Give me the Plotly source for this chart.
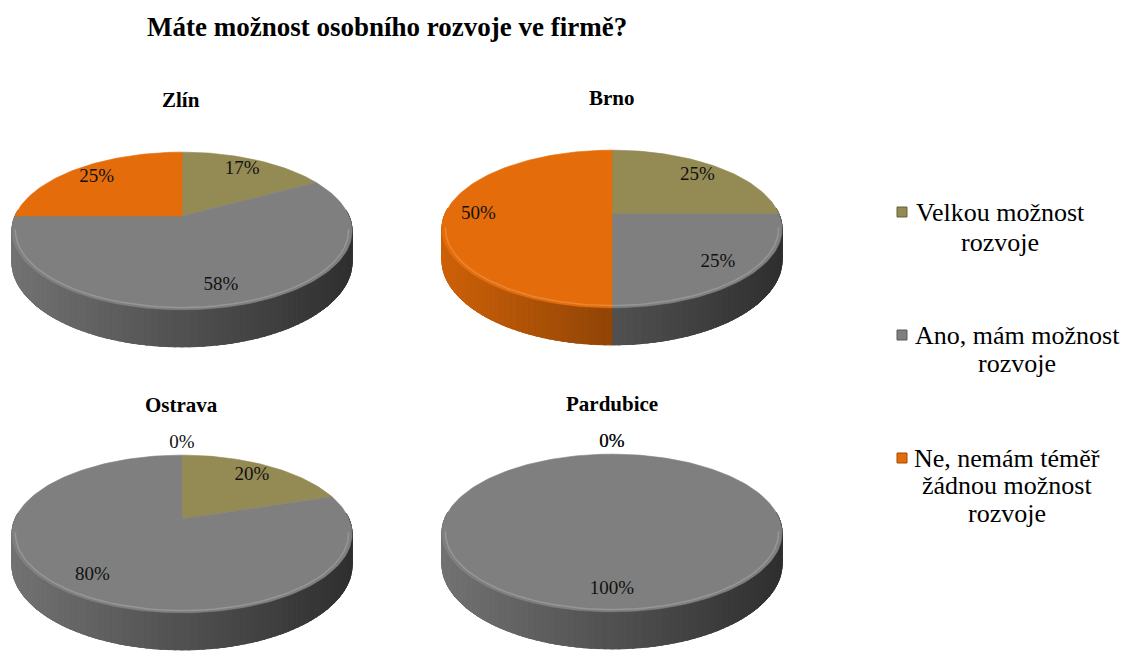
import numpy as np
import plotly.graph_objects as go

# Survey answers per branch (percent of respondents)
cities = ["Zlín", "Brno", "Ostrava", "Pardubice"]
categories = [
    "Velkou možnost rozvoje",
    "Ano, mám možnost rozvoje",
    "Ne, nemám téměř žádnou možnost rozvoje",
]
velkou = [17, 25, 20, 0]
ano = [58, 25, 80, 100]
ne = [25, 50, 0, 0]
legend_lines = [
    ["Velkou možnost", "rozvoje"],
    ["Ano, mám možnost", "rozvoje"],
    ["Ne, nemám téměř", "žádnou možnost", "rozvoje"],
]
title_text = "Máte možnost osobního rozvoje ve firmě?"

# Styling / layout
W, H_PX = 1132, 652
colors = ["#948A54", "#7F7F7F", "#E46C0A"]
centers = [(182, 216), (612, 214), (182, 519), (612, 518)]
subtitle_pos = [(181, 100), (612, 98), (181, 405), (612, 404)]
R = 167.0      # horizontal radius
K = 76.0       # vertical radius (tilt)
P = 0.19       # perspective strength
DEPTH = 30.0   # thickness of the disc
SERIF = "Times New Roman, Liberation Serif, serif"

# legend block geometry: marker x, text centre x, line centres (y)
legend_marker_x = 902
legend_center_x = [1000, 1017, 1007]
legend_line_y = [[212, 242], [335, 363], [458, 485, 513]]


def proj(c, theta_deg, f=1.0, drop=0.0):
    """Project a point of the tilted disc (theta clockwise from 12 o'clock)."""
    cx, cy = c
    t = np.radians(theta_deg)
    u = f * np.sin(t)
    v = f * np.cos(t)
    s = 1.0 / (1.0 + P * v)
    return cx + R * u * s, cy - K * v * s + drop * s


def hex_rgb(h):
    h = h.lstrip("#")
    return tuple(int(h[i:i + 2], 16) for i in (0, 2, 4))


def shade(h, k):
    r, g, b = hex_rgb(h)
    return "rgb(%d,%d,%d)" % (min(255, r * k), min(255, g * k), min(255, b * k))


def side_factor(c, theta):
    xm, _ = proj(c, theta)
    t = np.clip((xm - (c[0] - R)) / (2 * R), 0, 1)
    return 0.9 - 0.52 * t


fig = go.Figure()

for i, city in enumerate(cities):
    c = centers[i]
    vals = [velkou[i], ano[i], ne[i]]
    bounds = np.concatenate([[0.0], np.cumsum(vals) * 3.6])

    def slice_of(theta):
        for k in range(3):
            if vals[k] > 0 and bounds[k] <= theta <= bounds[k + 1]:
                return k
        return 1

    # --- side wall: a flat base per slice, then shaded strips back to front
    lo, hi = 86.0, 274.0
    for k in range(3):
        a0, a1 = max(bounds[k], lo), min(bounds[k + 1], hi)
        if vals[k] <= 0 or a1 <= a0:
            continue
        th = np.linspace(a0, a1, 80)
        xt, yt = proj(c, th)
        xb, yb = proj(c, th, drop=DEPTH)
        col = shade(colors[k], side_factor(c, 0.5 * (a0 + a1)))
        fig.add_trace(go.Scatter(
            x=np.concatenate([xt, xb[::-1], xt[:1]]),
            y=np.concatenate([yt, yb[::-1], yt[:1]]),
            mode="lines", fill="toself", fillcolor=col, line=dict(color=col, width=0.8),
            hoverinfo="skip", showlegend=False))

    grid = list(np.linspace(lo, hi, 95))
    grid += [b for b in bounds if lo < b < hi]
    grid = sorted(set(np.round(grid, 6)))
    strips = []
    for a0, a1 in zip(grid[:-1], grid[1:]):
        mid = 0.5 * (a0 + a1)
        strips.append((np.cos(np.radians(mid)), a0, a1, mid))
    strips.sort(key=lambda s: -s[0])
    for _, a0, a1, mid in strips:
        k = slice_of(mid)
        # widen each strip a touch, but never across a slice boundary
        e0 = max(a0 - 0.4, bounds[k]) if a0 > bounds[k] else a0
        e1 = min(a1 + 0.4, bounds[k + 1]) if a1 < bounds[k + 1] else a1
        x0t, y0t = proj(c, e0)
        x1t, y1t = proj(c, e1)
        x0b, y0b = proj(c, e0, drop=DEPTH)
        x1b, y1b = proj(c, e1, drop=DEPTH)
        col = shade(colors[k], side_factor(c, mid))
        fig.add_trace(go.Scatter(
            x=[x0t, x1t, x1b, x0b, x0t], y=[y0t, y1t, y1b, y0b, y0t],
            mode="lines", fill="toself", fillcolor=col,
            line=dict(color=col, width=0.8), hoverinfo="skip", showlegend=False))

    # --- top face slices
    for k in range(3):
        if vals[k] <= 0:
            continue
        a0, a1 = bounds[k], bounds[k + 1]
        th = np.linspace(a0, a1, max(3, int((a1 - a0) / 1.5)))
        xs, ys = proj(c, th)
        fig.add_trace(go.Scatter(
            x=np.concatenate([[c[0]], xs, [c[0]]]),
            y=np.concatenate([[c[1]], ys, [c[1]]]),
            mode="lines", fill="toself", fillcolor=colors[k],
            line=dict(color=colors[k], width=0.6),
            name=categories[k], hoverinfo="name", showlegend=False))

    # --- soft bevel highlight along the front rim
    for k in range(3):
        if vals[k] <= 0:
            continue
        a0, a1 = max(bounds[k], 100), min(bounds[k + 1], 260)
        if a1 <= a0:
            continue
        th = np.linspace(a0, a1, 60)
        xs, ys = proj(c, th, f=0.98)
        fig.add_trace(go.Scatter(
            x=xs, y=ys, mode="lines",
            line=dict(color="rgba(255,255,255,0.18)", width=1.5),
            hoverinfo="skip", showlegend=False))

    # --- percentage labels
    lx, ly, lt = [], [], []
    for k in range(3):
        mid = 0.5 * (bounds[k] + bounds[k + 1])
        f = 0.8 if vals[k] > 0 else 1.22
        x, y = proj(c, mid, f=f)
        lx.append(x)
        ly.append(y)
        lt.append("%d%%" % vals[k])
    fig.add_trace(go.Scatter(
        x=lx, y=ly, text=lt, mode="text",
        textfont=dict(family=SERIF, size=19, color="#111111"),
        hoverinfo="skip", showlegend=False))

    # --- pie title
    fig.add_annotation(x=subtitle_pos[i][0], y=subtitle_pos[i][1], text="<b>%s</b>" % city,
                       showarrow=False, font=dict(family=SERIF, size=21, color="#000000"),
                       xanchor="center", yanchor="middle")

# --- legend: squares + centred, wrapped labels
fig.add_trace(go.Scatter(
    x=[legend_marker_x] * 3, y=[ly_[0] for ly_ in legend_line_y], mode="markers",
    marker=dict(symbol="square", size=10, color=colors,
                line=dict(color=[shade(cc, 0.7) for cc in colors], width=1)),
    hoverinfo="skip", showlegend=False))
for k in range(3):
    for line, yy in zip(legend_lines[k], legend_line_y[k]):
        fig.add_annotation(x=legend_center_x[k], y=yy, text=line, showarrow=False,
                           xanchor="center", yanchor="middle",
                           font=dict(family=SERIF, size=26, color="#000000"))

fig.add_annotation(x=387, y=27, text="<b>%s</b>" % title_text, showarrow=False,
                   font=dict(family=SERIF, size=27, color="#000000"),
                   xanchor="center", yanchor="middle")

fig.update_layout(
    width=W, height=H_PX, margin=dict(l=0, r=0, t=0, b=0),
    paper_bgcolor="white", plot_bgcolor="white", showlegend=False,
    xaxis=dict(range=[0, W], visible=False, fixedrange=True),
    yaxis=dict(range=[H_PX, 0], visible=False, fixedrange=True),
)

fig.write_html("out.html")
